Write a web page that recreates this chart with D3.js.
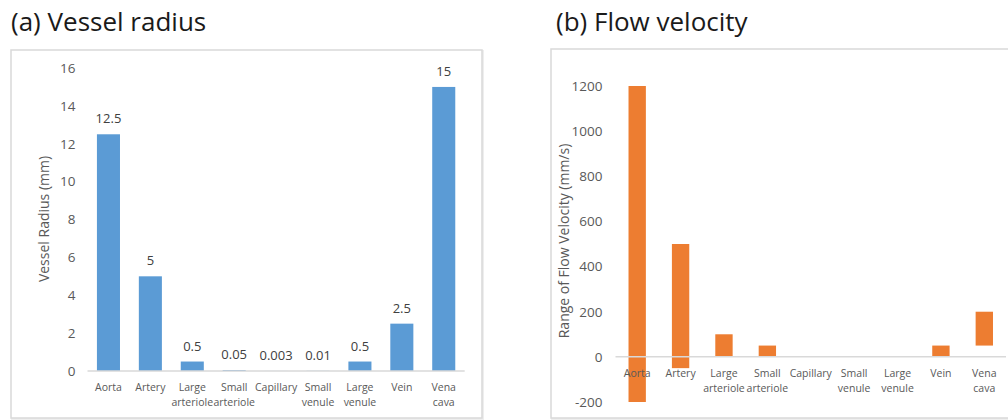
<!DOCTYPE html>
<html>
<head>
<meta charset="utf-8">
<script src="https://cdn.jsdelivr.net/npm/d3@7"></script>
<style>
  body { margin: 0; background: #fff; }
  svg { display: block; font-family: 'Open Sans', sans-serif; }
</style>
</head>
<body>
<div id="vis"></div>
<script>
// vessel types, shared by both panels
var categories = ['Aorta', 'Artery', 'Large arteriole', 'Small arteriole', 'Capillary',
                  'Small venule', 'Large venule', 'Vein', 'Vena cava'];
// (a) radius in mm
var radiusValues = [12.5, 5, 0.5, 0.05, 0.003, 0.01, 0.5, 2.5, 15];
var radiusLabels = ['12.5', '5', '0.5', '0.05', '0.003', '0.01', '0.5', '2.5', '15'];
var radiusTicks = [0, 2, 4, 6, 8, 10, 12, 14, 16];
// (b) flow velocity range in mm/s (low, high); null = no bar
var flowLow  = [-200, -50, 0, 0, null, null, null, 0, 50];
var flowHigh = [1200, 500, 100, 50, null, null, null, 50, 200];
var flowTicks = [-200, 0, 200, 400, 600, 800, 1000, 1200];

var width = 1008, height = 420;
var svg = d3.select('#vis').append('svg')
  .attr('width', width)
  .attr('height', height);

var tickColor = '#595959';
var gridColor = '#d9d9d9';

function panelFrame(x, y, w, h, title, tx) {
  svg.append('rect')
    .attr('x', x + 1).attr('y', y + 1)
    .attr('width', w).attr('height', h)
    .attr('fill', 'none')
    .attr('stroke', '#eeeeee')
    .attr('stroke-width', 2);
  svg.append('rect')
    .attr('x', x).attr('y', y)
    .attr('width', w).attr('height', h)
    .attr('fill', '#fff')
    .attr('stroke', gridColor)
    .attr('stroke-width', 1.5);
  svg.append('text')
    .attr('x', tx).attr('y', 31)
    .style('font-size', '26px')
    .style('fill', '#1a1a1a')
    .text(title);
}

function xLabels(g, x, y0) {
  categories.forEach(function (c) {
    var words = c.split(' ');
    var t = g.append('text')
      .attr('x', x(c) + x.bandwidth() / 2)
      .attr('y', y0 + 20)
      .attr('text-anchor', 'middle')
      .style('font-size', '10.5px')
      .style('fill', tickColor);
    words.forEach(function (w, i) {
      t.append('tspan')
        .attr('x', x(c) + x.bandwidth() / 2)
        .attr('dy', i === 0 ? 0 : 15)
        .text(w);
    });
  });
}

function yAxis(g, y, ticks, xPos, pad) {
  g.append('g')
    .attr('transform', 'translate(' + xPos + ',0)')
    .call(d3.axisLeft(y).tickValues(ticks).tickSize(0).tickPadding(pad)
      .tickFormat(function (d) { return String(d); }))
    .call(function (a) { a.select('.domain').remove(); })
    .selectAll('text')
    .style('font-family', "'Open Sans', sans-serif")
    .style('font-size', '13.5px')
    .style('fill', tickColor);
}

// ---------- (a) Vessel radius ----------
panelFrame(11, 50, 471, 368, '(a) Vessel radius', 11);

var gA = svg.append('g');
var xA = d3.scaleBand()
  .domain(categories)
  .range([87.5, 464.7])
  .paddingInner(0.45)
  .paddingOuter(0.225);
var yA = d3.scaleLinear().domain([0, 16]).range([371, 68]);

yAxis(gA, yA, radiusTicks, 87.5, 12);

gA.selectAll('.barA')
  .data(radiusValues)
  .enter().append('rect')
  .attr('class', 'barA')
  .attr('x', function (d, i) { return xA(categories[i]); })
  .attr('width', xA.bandwidth())
  .attr('y', function (d) { return yA(d); })
  .attr('height', function (d) { return yA(0) - yA(d); })
  .attr('fill', '#5B9BD5');

gA.append('line')
  .attr('x1', 87.5).attr('x2', 464.7)
  .attr('y1', yA(0)).attr('y2', yA(0))
  .attr('stroke', gridColor)
  .attr('stroke-width', 1.5);

gA.selectAll('.lblA')
  .data(radiusValues)
  .enter().append('text')
  .attr('class', 'lblA')
  .attr('x', function (d, i) { return xA(categories[i]) + xA.bandwidth() / 2; })
  .attr('y', function (d) { return yA(d) - 11; })
  .attr('text-anchor', 'middle')
  .style('font-size', '13px')
  .style('fill', '#404040')
  .text(function (d, i) { return radiusLabels[i]; });

xLabels(gA, xA, yA(0));

gA.append('text')
  .attr('transform', 'translate(49,' + 219 + ') rotate(-90)')
  .attr('text-anchor', 'middle')
  .style('font-size', '14px')
  .style('fill', tickColor)
  .text('Vessel Radius (mm)');

// ---------- (b) Flow velocity ----------
panelFrame(551, 49, 475, 369, '(b) Flow velocity', 556);

var gB = svg.append('g');
var xB = d3.scaleBand()
  .domain(categories)
  .range([615.5, 1006])
  .paddingInner(0.6)
  .paddingOuter(0.3);
var yB = d3.scaleLinear().domain([-200, 1200]).range([402, 86]);

yAxis(gB, yB, flowTicks, 615.5, 13);

var flowData = categories.map(function (c, i) {
  return { cat: c, lo: flowLow[i], hi: flowHigh[i] };
}).filter(function (d) { return d.lo !== null; });

gB.selectAll('.barB')
  .data(flowData)
  .enter().append('rect')
  .attr('class', 'barB')
  .attr('x', function (d) { return xB(d.cat); })
  .attr('width', xB.bandwidth())
  .attr('y', function (d) { return yB(d.hi); })
  .attr('height', function (d) { return yB(d.lo) - yB(d.hi); })
  .attr('fill', '#ED7D31');

gB.append('line')
  .attr('x1', 615.5).attr('x2', 1006)
  .attr('y1', yB(0)).attr('y2', yB(0))
  .attr('stroke', gridColor)
  .attr('stroke-width', 1.5);

xLabels(gB, xB, yB(0));

gB.append('text')
  .attr('transform', 'translate(569,' + 241 + ') rotate(-90)')
  .attr('text-anchor', 'middle')
  .style('font-size', '14px')
  .style('fill', tickColor)
  .text('Range of Flow Velocity (mm/s)');
</script>
</body>
</html>
